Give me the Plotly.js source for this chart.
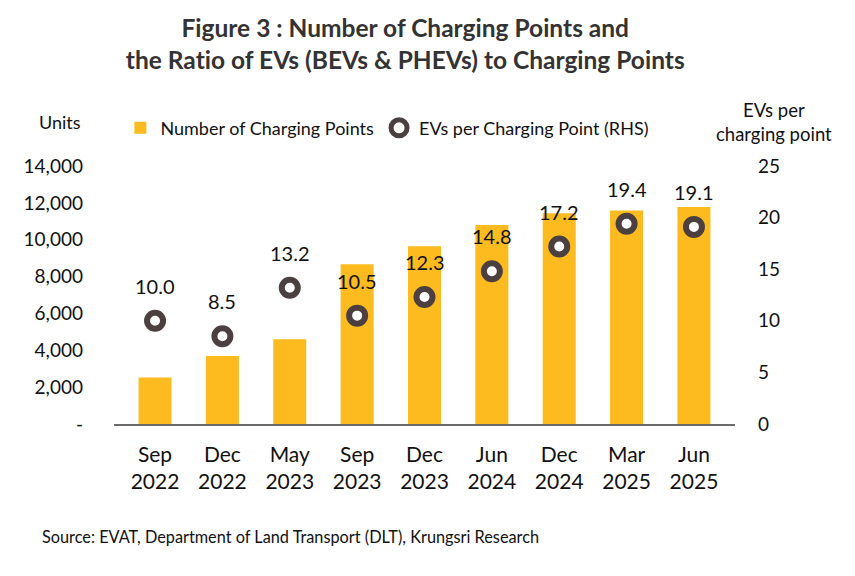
<!DOCTYPE html>
<html>
<head>
<meta charset="utf-8">
<script src="https://cdn.plot.ly/plotly-3.0.1.min.js"></script>
<style>html,body{margin:0;padding:0;background:#fff;}#chart{width:855px;height:576px;}</style>
</head>
<body>
<div id="chart"></div>
<script>
const categories = ["Sep<br>2022","Dec<br>2022","May<br>2023","Sep<br>2023","Dec<br>2023","Jun<br>2024","Dec<br>2024","Mar<br>2025","Jun<br>2025"];
const chargingPoints = [2530, 3690, 4600, 8670, 9640, 10800, 11430, 11580, 11780];
const evsPerPoint = [10.0, 8.5, 13.2, 10.5, 12.3, 14.8, 17.2, 19.4, 19.1];
const leftTickVals = [0, 2000, 4000, 6000, 8000, 10000, 12000, 14000];
const leftTickText = ["-", "2,000", "4,000", "6,000", "8,000", "10,000", "12,000", "14,000"];
const rightTickVals = [0, 5, 10, 15, 20, 25];

const FONT = "Lato, 'Liberation Sans', sans-serif";
const data = [
  {
    type: "bar", x: categories, y: chargingPoints, name: "Number of Charging Points",
    marker: {color: "#FDBB1F"}, yaxis: "y", hoverinfo: "skip"
  },
  {
    type: "scatter", mode: "markers", x: categories, y: evsPerPoint, yaxis: "y2",
    name: "EVs per Charging Point (RHS)",
    marker: {symbol: "circle", size: 16, color: "#ffffff", line: {color: "#4B3F3F", width: 6}},
    cliponaxis: false
  }
];
const labelAnnotations = categories.map((c, i) => ({
  x: c, y: evsPerPoint[i], xref: "x", yref: "y2", text: evsPerPoint[i].toFixed(1),
  showarrow: false, yshift: 35, xanchor: "center", yanchor: "middle",
  font: {family: FONT, size: 20, color: "#111"}
}));
const layout = {
  width: 855, height: 576,
  margin: {l: 114, r: 120, t: 166, b: 152},
  paper_bgcolor: "#fff", plot_bgcolor: "#fff",
  font: {family: FONT, size: 19, color: "#111"},
  title: {
    text: "<b>Figure 3 : Number of Charging Points and<br>the Rat\u200Cio of EVs (BEVs & PHEVs) to Charging Points</b>",
    font: {family: FONT, size: 24.5, color: "#333"}, x: 0.474, xanchor: "center",
    yref: "container", y: 0.936, yanchor: "middle"
  },
  bargap: 0.51,
  showlegend: true,
  legend: {orientation: "h", x: 0.0103, y: 1.147, xanchor: "left", yanchor: "middle",
    font: {family: FONT, size: 18, color: "#111"}, itemwidth: 30, tracegroupgap: 0},
  xaxis: {
    showline: true, linecolor: "#6b6b6b", linewidth: 1.5, ticks: "", showgrid: false,
    tickfont: {family: FONT, size: 21, color: "#111"}, ticklabelstandoff: 11, fixedrange: true
  },
  yaxis: {
    range: [0, 14000], tickvals: leftTickVals, ticktext: leftTickText, showgrid: false,
    zeroline: false, showline: false, ticklabelstandoff: 30,
    tickfont: {family: FONT, size: 19, color: "#111"}
  },
  yaxis2: {
    range: [0, 25], tickvals: rightTickVals, overlaying: "y", side: "right", showgrid: false,
    zeroline: false, showline: false, ticklabelstandoff: 22,
    tickfont: {family: FONT, size: 19, color: "#111"}
  },
  annotations: [
    {text: "Units", xref: "paper", yref: "paper", x: -0.124, y: 1.17, xanchor: "left", yanchor: "middle",
     showarrow: false, font: {family: FONT, size: 18, color: "#111"}},
    {text: "EVs per<br>charging point", xref: "paper", yref: "paper", x: 1.063, y: 1.172, xanchor: "center", yanchor: "middle",
     showarrow: false, font: {family: FONT, size: 18.5, color: "#111"}},
    {text: "Source: EVAT, Department of Land Transport (DLT), Krungsri Research", xref: "paper", yref: "paper",
     x: -0.119, y: -0.435, xanchor: "left", yanchor: "middle", showarrow: false,
     font: {family: FONT, size: 16.3, color: "#111"}}
  ].concat(labelAnnotations)
};
Plotly.newPlot("chart", data, layout, {displayModeBar: false, staticPlot: true});
</script>
</body>
</html>
